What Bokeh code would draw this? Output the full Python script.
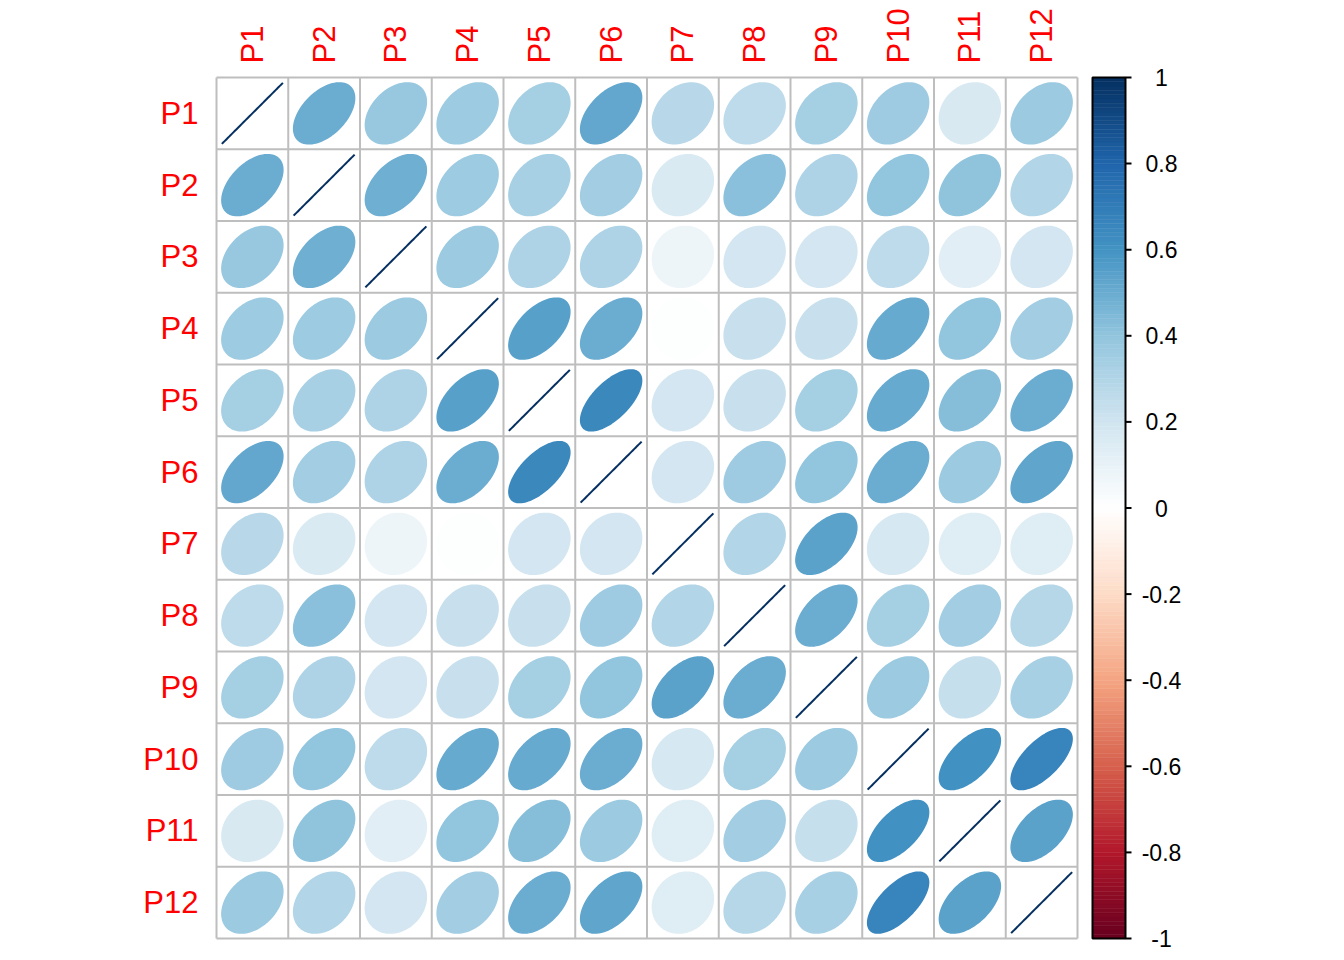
import numpy as np
from bokeh.plotting import figure
from bokeh.models import Range1d
from bokeh.core.properties import value
from bokeh.embed import file_html
from bokeh.resources import INLINE

labels = ["P1", "P2", "P3", "P4", "P5", "P6", "P7", "P8", "P9", "P10", "P11", "P12"]

# upper-triangle correlations, row i with columns i+1..12
row_p1 = [0.50, 0.38, 0.365, 0.34, 0.52, 0.28, 0.26, 0.34, 0.36, 0.17, 0.37]
row_p2 = [0.49, 0.365, 0.33, 0.35, 0.165, 0.42, 0.31, 0.40, 0.405, 0.30]
row_p3 = [0.37, 0.31, 0.31, 0.08, 0.19, 0.19, 0.26, 0.13, 0.19]
row_p4 = [0.55, 0.50, 0.01, 0.23, 0.23, 0.51, 0.40, 0.35]
row_p5 = [0.65, 0.19, 0.23, 0.34, 0.51, 0.43, 0.50]
row_p6 = [0.19, 0.36, 0.40, 0.50, 0.37, 0.53]
row_p7 = [0.30, 0.54, 0.18, 0.14, 0.14]
row_p8 = [0.50, 0.34, 0.35, 0.29]
row_p9 = [0.37, 0.235, 0.33]
row_p10 = [0.61, 0.665]
row_p11 = [0.54]

colorbar_ticks = [-1, -0.8, -0.6, -0.4, -0.2, 0, 0.2, 0.4, 0.6, 0.8, 1]
colorbar_tick_labels = ["-1", "-0.8", "-0.6", "-0.4", "-0.2", "0", "0.2", "0.4", "0.6", "0.8", "1"]

rows = [row_p1, row_p2, row_p3, row_p4, row_p5, row_p6, row_p7, row_p8, row_p9, row_p10, row_p11]
n = len(labels)
M = np.eye(n)
for i, r in enumerate(rows):
    for k, v in enumerate(r):
        j = i + 1 + k
        M[i, j] = v
        M[j, i] = v

pal_hex = ["#67001F", "#B2182B", "#D6604D", "#F4A582", "#FDDBC7", "#FFFFFF",
           "#D1E5F0", "#92C5DE", "#4393C3", "#2166AC", "#053061"]
pal_rgb = np.array([[int(h[i:i + 2], 16) for i in (1, 3, 5)] for h in pal_hex], dtype=float)
pal_pos = np.linspace(-1, 1, len(pal_hex))


def color_of(v):
    rgb = [np.interp(v, pal_pos, pal_rgb[:, c]) for c in range(3)]
    return "#%02x%02x%02x" % tuple(int(round(c)) for c in rgb)


W, H = 1330, 958
cell = 71.75
gl, gt = 216.0, 77.0  # grid left / top in canvas px
x0 = -gl / cell
x1 = (W - gl) / cell
y1 = n + gt / cell
y0 = y1 - H / cell

p = figure(width=W, height=H, output_backend="svg", toolbar_location=None,
           x_range=Range1d(x0, x1), y_range=Range1d(y0, y1),
           min_border=0, outline_line_color=None)
p.axis.visible = False
p.grid.visible = False

# ellipses
kk = np.linspace(0, 2 * np.pi, 99)
xs, ys, cols, lws = [], [], [], []
for i in range(n):
    for j in range(n):
        r = M[i, j]
        a = np.arccos(np.clip(r, -1, 1))
        cx = j + 0.5
        cy = n - i - 0.5
        xs.append(list(0.85 * np.cos(kk + a / 2) / 2 + cx))
        ys.append(list(0.85 * np.cos(kk - a / 2) / 2 + cy))
        cols.append(color_of(r))
        lws.append(2.0 if i == j else 1.5)
p.patches(xs, ys, fill_color=cols, line_color=cols, line_width=lws)

# grid lines
gx = list(range(n + 1))
p.segment(x0=gx, y0=[0] * (n + 1), x1=gx, y1=[n] * (n + 1), line_color="#BEBEBE", line_width=2)
p.segment(x0=[0] * (n + 1), y0=gx, x1=[n] * (n + 1), y1=gx, line_color="#BEBEBE", line_width=2)

# labels
p.text(x=[-18 / cell] * n, y=[n - i - 0.5 for i in range(n)], text=labels,
       text_align="right", text_baseline="middle", text_color="red",
       text_font=value("Liberation Sans"), text_font_size="31px")
p.text(x=[j + 0.5 for j in range(n)], y=[n + 14 / cell] * n, text=labels,
       angle=np.pi / 2, text_align="left", text_baseline="middle", text_color="red",
       text_font=value("Liberation Sans"), text_font_size="31px")

# colorbar
cb_l = (1092 - gl) / cell
cb_r = (1125 - gl) / cell
nb = 200
edges = np.linspace(-1, 1, nb + 1)
mids = (edges[:-1] + edges[1:]) / 2
to_y = lambda v: (np.asarray(v) + 1) / 2 * n
p.quad(left=cb_l, right=cb_r, bottom=to_y(edges[:-1]), top=to_y(edges[1:]),
       fill_color=[color_of(v) for v in mids], line_color=[color_of(v) for v in mids],
       line_width=0.5)
p.quad(left=[cb_l], right=[cb_r], bottom=[0], top=[n], fill_color=None,
       line_color="black", line_width=2)
tick_y = to_y(colorbar_ticks)
p.segment(x0=[cb_r] * len(tick_y), y0=tick_y, x1=[cb_r + 6 / cell] * len(tick_y), y1=tick_y,
          line_color="black", line_width=2)
p.text(x=[(1161 - gl) / cell] * len(tick_y), y=tick_y, text=colorbar_tick_labels,
       text_align="center", text_baseline="middle", text_color="black",
       text_font=value("Liberation Sans"), text_font_size="23px")

open("out.html", "w").write(file_html(p, INLINE))
